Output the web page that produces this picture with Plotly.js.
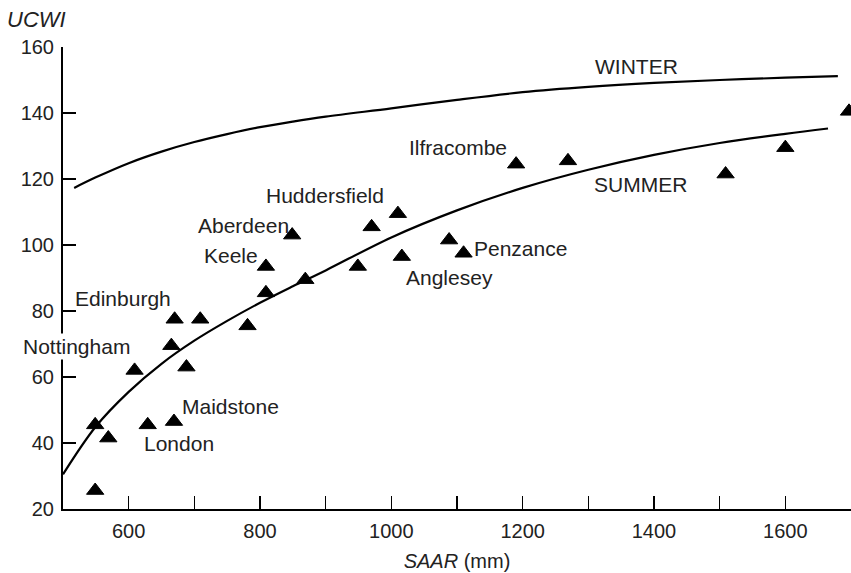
<!DOCTYPE html>
<html>
<head>
<meta charset="utf-8">
<script src="https://cdn.plot.ly/plotly-3.0.1.min.js"></script>
<style>
  html, body { margin: 0; padding: 0; background: #fff; }
  #chart { width: 851px; height: 573px; }
</style>
</head>
<body>
<div id="chart"></div>
<script>
// Station observations (SAAR mm, UCWI)
const stationSAAR = [549, 549, 569, 609, 629, 669, 665, 670, 709, 688, 781, 809, 809, 849, 869, 949, 970, 1010, 1016, 1088, 1110, 1190, 1269, 1509, 1600, 1697];
const stationUCWI = [25.6, 45.5, 41.5, 62, 45.5, 46.5, 69.5, 77.5, 77.5, 63, 75.5, 85.5, 93.5, 103, 89.5, 93.5, 105.5, 109.5, 96.5, 101.5, 97.5, 124.5, 125.5, 121.5, 129.5, 140.5];

// Summer curve
const summerSAAR = [500, 550, 600, 650, 700, 750, 800, 850, 900, 1000, 1100, 1200, 1300, 1400, 1500, 1600, 1665];
const summerUCWI = [30.5, 45, 55.5, 64, 71, 77, 82.5, 87.5, 92.3, 102.3, 110.5, 117.3, 122.8, 127.3, 130.9, 133.7, 135.3];

// Winter curve
const winterSAAR = [517, 550, 600, 650, 700, 750, 800, 850, 900, 1000, 1100, 1200, 1300, 1400, 1500, 1600, 1680];
const winterUCWI = [117.3, 120.5, 124.8, 128.3, 131.2, 133.6, 135.7, 137.4, 138.9, 141.4, 144, 146.3, 147.9, 149.1, 150, 150.7, 151.2];

// Axis ticks
const xTickVals = [500, 600, 700, 800, 900, 1000, 1100, 1200, 1300, 1400, 1500, 1600, 1700];
const xTickText = ['', '600', '', '800', '', '1000', '', '1200', '', '1400', '', '1600', ''];
const yTickVals = [20, 40, 60, 80, 100, 120, 140, 160];

// Labels
const labelText = ['WINTER', 'SUMMER', 'Ilfracombe', 'Huddersfield', 'Aberdeen', 'Keele', 'Penzance', 'Anglesey', 'Edinburgh', 'Nottingham', 'Maidstone', 'London'];
const labelX = [1374, 1379, 1102, 899.5, 774.7, 756.5, 1196.3, 1088, 592, 520.5, 755, 677.3];
const labelY = [154.2, 118.3, 129.5, 115, 105.8, 96.7, 98.9, 90.1, 83.7, 69.1, 51.2, 40];

const FONT = 'Liberation Sans, Arial, Helvetica, sans-serif';
const TXT = '#222';

const traces = [
  {
    x: winterSAAR, y: winterUCWI, type: 'scatter', mode: 'lines',
    line: { color: '#000', width: 2.2, shape: 'spline', smoothing: 1 },
    hoverinfo: 'skip'
  },
  {
    x: summerSAAR, y: summerUCWI, type: 'scatter', mode: 'lines',
    line: { color: '#000', width: 2.2, shape: 'spline', smoothing: 1 },
    hoverinfo: 'skip'
  },
  {
    x: stationSAAR, y: stationUCWI, type: 'scatter', mode: 'markers',
    marker: { symbol: 'triangle-up', size: 15, color: '#000', line: { width: 1, color: '#000' } }
  }
];

const annotations = labelText.map((t, i) => ({
  x: labelX[i], y: labelY[i], xref: 'x', yref: 'y',
  text: t, showarrow: false, xanchor: 'center', yanchor: 'middle',
  font: { family: FONT, size: 21, color: TXT },
  bgcolor: t === 'Nottingham' ? '#fff' : 'rgba(0,0,0,0)',
  borderpad: 1
}));

annotations.push({
  x: -0.033, y: 1.0606, xref: 'paper', yref: 'paper',
  text: '<i>UCWI</i>', showarrow: false, xanchor: 'center', yanchor: 'middle',
  font: { family: FONT, size: 22, color: TXT }
});

const layout = {
  width: 851, height: 573,
  margin: { l: 63, r: 0, t: 47, b: 64 },
  paper_bgcolor: '#fff', plot_bgcolor: '#fff',
  showlegend: false,
  font: { family: FONT, size: 20, color: TXT },
  xaxis: {
    range: [500, 1700], tickmode: 'array', tickvals: xTickVals, ticktext: xTickText,
    ticks: 'inside', ticklen: 13, tickwidth: 1.5, tickcolor: '#000',
    showline: true, linecolor: '#000', linewidth: 2,
    showgrid: false, zeroline: false,
    tickfont: { family: FONT, size: 20, color: TXT },
    ticklabelstandoff: 3,
    title: { text: '<i>SAAR</i> (mm)', font: { family: FONT, size: 20, color: TXT }, standoff: 13 }
  },
  yaxis: {
    range: [20, 160], tickmode: 'array', tickvals: yTickVals,
    ticks: 'inside', ticklen: 13, tickwidth: 1.5, tickcolor: '#000',
    showline: true, linecolor: '#000', linewidth: 2,
    showgrid: false, zeroline: false,
    tickfont: { family: FONT, size: 20, color: TXT },
    ticklabelstandoff: 3
  },
  annotations: annotations
};

Plotly.newPlot('chart', traces, layout, { displayModeBar: false, staticPlot: true });
</script>
</body>
</html>
